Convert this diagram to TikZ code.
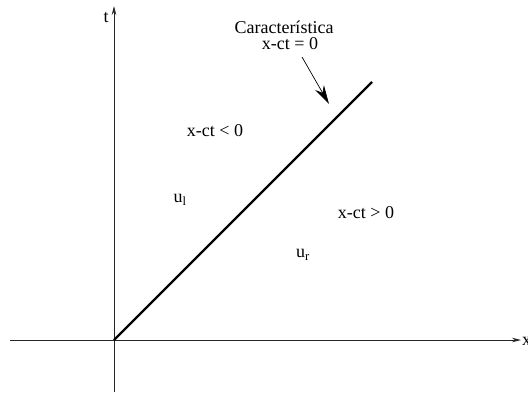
\documentclass[tikz,border=0pt]{standalone}
\usepackage{fontspec}
\setmainfont{Liberation Serif}
\usetikzlibrary{arrows.meta}
\begin{document}
\begin{tikzpicture}[x=1pt,y=-1pt,
  axis/.style={line width=0.8pt,draw=black!85,-{Stealth[length=9pt,width=4.5pt]}},
  charline/.style={line width=2.2pt,black},
  pointer/.style={line width=0.7pt,-{Stealth[length=19pt,width=10pt]}},
  lbl/.style={font=\fontsize{18}{19}\selectfont,inner sep=0pt}]
\useasboundingbox (0,0) rectangle (528,394);
\coordinate (O) at (114,340);
\coordinate (xs) at (10,340);
\coordinate (xe) at (521,340);
\coordinate (ys) at (114,392);
\coordinate (ye) at (114,6);
\coordinate (C) at (372,82);
\draw[axis] (xs) -- (xe);
\draw[axis] (ys) -- (ye);
\draw[charline] (O) -- (C);
\node[lbl,anchor=west] (xl) at (522,341) {x};
\node[lbl] (tl) at (106,18) {t};
\node[lbl] (car) at (284,27) {Característica};
\node[lbl] (eq) at (290,44) {x-ct = 0};
\coordinate (ps) at (302,57);
\coordinate (pe) at (329,104);
\draw[pointer] (ps) -- (pe);
\node[lbl] (neg) at (215,131) {x-ct < 0};
\node[lbl] (ul) at (180,200) {u\textsubscript{l}};
\node[lbl] (pos) at (366,213) {x-ct > 0};
\node[lbl] (ur) at (303,255) {u\textsubscript{r}};
\end{tikzpicture}
\end{document}
